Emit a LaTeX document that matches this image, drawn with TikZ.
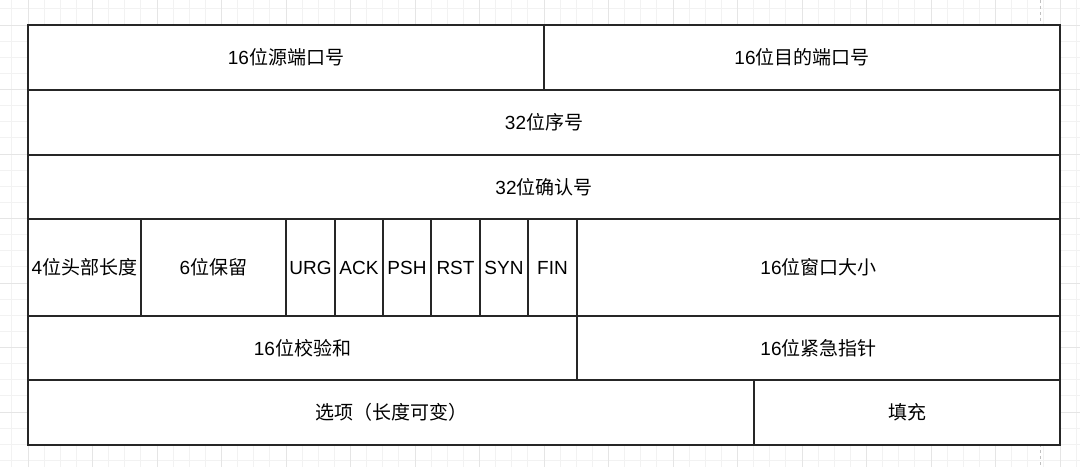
\documentclass[tikz,border=0pt]{standalone}
\usepackage{fontspec}
\setmainfont{Liberation Sans}
\newfontfamily\cjk{Noto Sans CJK SC}
\newcommand\zh[1]{{\cjk #1}}
\tikzset{
  cell/.style={draw=black!85, line width=1.6pt, fill=white, inner sep=0pt,
    font=\fontsize{19}{23}\selectfont, text=black},
  gridminor/.style={draw=black!5, line width=0.8pt},
  gridmajor/.style={draw=black!10, line width=0.8pt},
}
\begin{document}
\begin{tikzpicture}[x=1pt,y=-1pt]
\useasboundingbox (0,0) rectangle (1080,467);
\fill[white] (0,0) rectangle (1080,467);
% background grid
\foreach \i in {-2,...,66} {
  \draw[gridminor] ({28+16.125*\i},0) -- ({28+16.125*\i},467);
}
\foreach \j in {-2,...,28} {
  \draw[gridminor] (0,{25+16.125*\j}) -- (1080,{25+16.125*\j});
}
\foreach \i in {0,4,...,64} {
  \draw[gridmajor] ({28+16.125*\i},0) -- ({28+16.125*\i},467);
}
\foreach \j in {-4,0,...,28} {
  \draw[gridmajor] (0,{25+16.125*\j}) -- (1080,{25+16.125*\j});
}
\draw[draw=black!25, line width=1pt, dash pattern=on 3pt off 3pt] (1040,0) -- (1040,467);
% row 1
\node[cell, minimum width=516pt, minimum height=65pt] (src) at (286,57.5) {16\zh{位源端口号}};
\node[cell, minimum width=516pt, minimum height=65pt] (dst) at (802,57.5) {16\zh{位目的端口号}};
% row 2
\node[cell, minimum width=1032pt, minimum height=65pt] (seq) at (544,122.5) {32\zh{位序号}};
% row 3
\node[cell, minimum width=1032pt, minimum height=64pt] (ackn) at (544,187) {32\zh{位确认号}};
% row 4
\node[cell, minimum width=113pt, minimum height=97pt] (hlen) at (84.5,267.5) {4\zh{位头部长度}};
\node[cell, minimum width=145pt, minimum height=97pt] (resv) at (213.5,267.5) {6\zh{位保留}};
\node[cell, minimum width=49pt, minimum height=97pt] (urg) at (310.5,267.5) {URG};
\node[cell, minimum width=48pt, minimum height=97pt] (ack) at (359,267.5) {ACK};
\node[cell, minimum width=48pt, minimum height=97pt] (psh) at (407,267.5) {PSH};
\node[cell, minimum width=49pt, minimum height=97pt] (rst) at (455.5,267.5) {RST};
\node[cell, minimum width=48pt, minimum height=97pt] (syn) at (504,267.5) {SYN};
\node[cell, minimum width=49pt, minimum height=97pt] (fin) at (552.5,267.5) {FIN};
\node[cell, minimum width=483pt, minimum height=97pt] (win) at (818.5,267.5) {16\zh{位窗口大小}};
% row 5
\node[cell, minimum width=549pt, minimum height=64pt] (chk) at (302.5,348) {16\zh{位校验和}};
\node[cell, minimum width=483pt, minimum height=64pt] (uptr) at (818.5,348) {16\zh{位紧急指针}};
% row 6
\node[cell, minimum width=726pt, minimum height=65pt] (opt) at (391,412.5) {\zh{选项（长度可变）}};
\node[cell, minimum width=306pt, minimum height=65pt] (pad) at (907,412.5) {\zh{填充}};
\end{tikzpicture}
\end{document}
